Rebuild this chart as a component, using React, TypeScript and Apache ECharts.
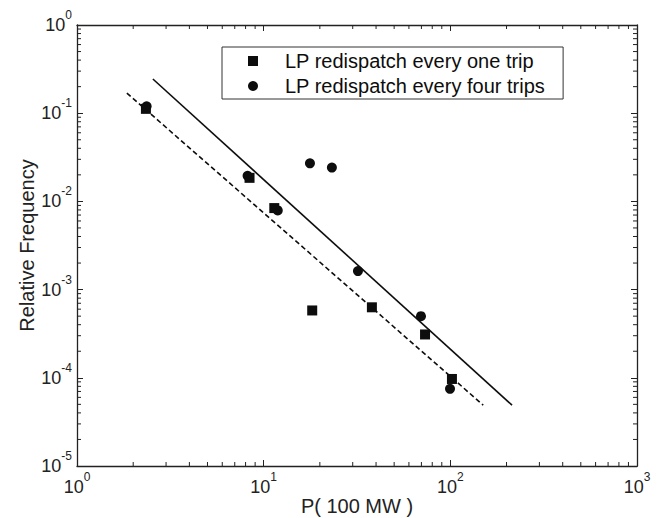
import React, { useEffect, useRef } from 'react';
import * as echarts from 'echarts';

const FONT = '"Liberation Sans", Arial, Helvetica, sans-serif';

// P (100 MW) and relative frequency, LP redispatch every one trip
const oneTripP = [2.34, 8.4, 11.4, 18.2, 38.0, 73.2, 102];
const oneTripFreq = [0.112, 0.0185, 0.0084, 0.00058, 0.00063, 0.00031, 0.000097];

// LP redispatch every four trips
const fourTripsP = [2.36, 8.2, 11.9, 17.7, 23.2, 32.0, 69.6, 99.6];
const fourTripsFreq = [0.12, 0.0195, 0.0079, 0.027, 0.0242, 0.00162, 0.0005, 0.000075];

// power-law fit lines (end points)
const solidFitP = [2.55, 214];
const solidFitFreq = [0.244, 4.9e-5];
const dashedFitP = [1.85, 150];
const dashedFitFreq = [0.169, 4.9e-5];

const X_MIN = 1;
const X_MAX = 1000;
const Y_MIN = 1e-5;
const Y_MAX = 1;

const seriesNames = ['LP redispatch every one trip', 'LP redispatch every four trips'];

function minorTicks(minExp: number, maxExp: number): number[] {
  const out: number[] = [];
  for (let e = minExp; e < maxExp; e++) {
    for (let m = 2; m <= 9; m++) out.push(m * Math.pow(10, e));
  }
  return out;
}
const xMinor = minorTicks(0, 3);
const yMinor = minorTicks(-5, 0);

const AXIS_COLOR = '#222';
const MARK_COLOR = '#0d0d0d';

const expLabel = (v: number) => {
  const e = Math.round(Math.log10(v));
  return `{b|10}{s|${e}}`;
};
const labelRich = {
  b: { fontSize: 18, fontFamily: FONT, color: AXIS_COLOR, lineHeight: 32, verticalAlign: 'middle' },
  s: { fontSize: 12, fontFamily: FONT, color: AXIS_COLOR, verticalAlign: 'top' },
};

export default function App() {
  const ref = useRef<HTMLDivElement>(null);
  useEffect(() => {
    if (!ref.current) return;
    const chart = echarts.init(ref.current, null, { renderer: 'svg' });
    const baseAxisLine = { show: true, lineStyle: { color: AXIS_COLOR, width: 1.3 } };
    const option: any = {
      animation: false,
      backgroundColor: '#fff',
      grid: { left: 77, right: 26, top: 25, bottom: 52, containLabel: false, outerBoundsMode: 'none' },
      legend: {
        data: [
          { name: seriesNames[0], icon: 'rect' },
          { name: seriesNames[1], icon: 'circle' },
        ],
        orient: 'vertical',
        left: 222,
        top: 47,
        itemWidth: 10,
        itemHeight: 10,
        itemGap: 5,
        padding: [4, 18, 3, 26],
        borderColor: '#333',
        borderWidth: 1,
        backgroundColor: '#fff',
        selectedMode: false,
        itemStyle: { opacity: 1 },
        textStyle: { fontSize: 20, fontFamily: FONT, color: MARK_COLOR, padding: [0, 0, 0, 22], lineHeight: 20 },
      },
      xAxis: [
        {
          type: 'log',
          logBase: 10,
          min: X_MIN,
          max: X_MAX,
          position: 'bottom',
          name: 'P( 100 MW )',
          nameLocation: 'middle',
          nameGap: 30,
          nameMoveOverlap: false,
          nameTextStyle: { fontSize: 20, fontFamily: FONT, color: AXIS_COLOR },
          axisLine: baseAxisLine,
          axisTick: { show: true, inside: true, length: 6, lineStyle: { color: AXIS_COLOR, width: 1 } },
          axisLabel: { show: true, margin: 5, formatter: expLabel, rich: labelRich },
          splitLine: { show: false },
        },
        {
          type: 'log',
          logBase: 10,
          min: X_MIN,
          max: X_MAX,
          position: 'top',
          axisLine: baseAxisLine,
          axisTick: { show: true, inside: true, length: 6, lineStyle: { color: AXIS_COLOR, width: 1 } },
          axisLabel: { show: false },
          splitLine: { show: false },
        },
      ],
      yAxis: [
        {
          type: 'log',
          logBase: 10,
          min: Y_MIN,
          max: Y_MAX,
          position: 'left',
          name: 'Relative Frequency',
          nameLocation: 'middle',
          nameGap: 40,
          nameMoveOverlap: false,
          nameTextStyle: { fontSize: 20, fontFamily: FONT, color: AXIS_COLOR },
          axisLine: baseAxisLine,
          axisTick: { show: true, inside: true, length: 6, lineStyle: { color: AXIS_COLOR, width: 1 } },
          axisLabel: { show: true, margin: 5, formatter: expLabel, rich: labelRich },
          splitLine: { show: false },
        },
        {
          type: 'log',
          logBase: 10,
          min: Y_MIN,
          max: Y_MAX,
          position: 'right',
          axisLine: baseAxisLine,
          axisTick: { show: true, inside: true, length: 6, lineStyle: { color: AXIS_COLOR, width: 1 } },
          axisLabel: { show: false },
          splitLine: { show: false },
        },
      ],
      series: [
        {
          type: 'custom',
          name: 'xMinorTicks',
          silent: true,
          xAxisIndex: 0,
          yAxisIndex: 0,
          data: xMinor.map((v) => [v, 1e-3]),
          encode: { x: 0, y: 1 },
          renderItem: (_p: any, api: any) => {
            const v = api.value(0);
            const b = api.coord([v, Y_MIN]);
            const t = api.coord([v, Y_MAX]);
            const style = { stroke: AXIS_COLOR, lineWidth: 1 };
            return {
              type: 'group',
              children: [
                { type: 'line', shape: { x1: b[0], y1: b[1], x2: b[0], y2: b[1] - 4 }, style },
                { type: 'line', shape: { x1: t[0], y1: t[1], x2: t[0], y2: t[1] + 4 }, style },
              ],
            };
          },
        },
        {
          type: 'custom',
          name: 'yMinorTicks',
          silent: true,
          xAxisIndex: 0,
          yAxisIndex: 0,
          data: yMinor.map((v) => [10, v]),
          encode: { x: 0, y: 1 },
          renderItem: (_p: any, api: any) => {
            const v = api.value(1);
            const l = api.coord([X_MIN, v]);
            const r = api.coord([X_MAX, v]);
            const style = { stroke: AXIS_COLOR, lineWidth: 1 };
            return {
              type: 'group',
              children: [
                { type: 'line', shape: { x1: l[0], y1: l[1], x2: l[0] + 4, y2: l[1] }, style },
                { type: 'line', shape: { x1: r[0], y1: r[1], x2: r[0] - 4, y2: r[1] }, style },
              ],
            };
          },
        },
        {
          type: 'line',
          name: 'solidFit',
          data: solidFitP.map((p, i) => [p, solidFitFreq[i]]),
          showSymbol: false,
          symbol: 'none',
          lineStyle: { color: MARK_COLOR, width: 1.6, type: 'solid' },
          z: 3,
        },
        {
          type: 'line',
          name: 'dashedFit',
          data: dashedFitP.map((p, i) => [p, dashedFitFreq[i]]),
          showSymbol: false,
          symbol: 'none',
          lineStyle: { color: MARK_COLOR, width: 1.6, type: [5, 3] },
          z: 3,
        },
        {
          type: 'scatter',
          name: seriesNames[1],
          data: fourTripsP.map((p, i) => [p, fourTripsFreq[i]]),
          symbol: 'circle',
          symbolSize: 10,
          itemStyle: { color: MARK_COLOR, opacity: 1 },
          z: 4,
        },
        {
          type: 'scatter',
          name: seriesNames[0],
          data: oneTripP.map((p, i) => [p, oneTripFreq[i]]),
          symbol: 'rect',
          symbolSize: 10,
          itemStyle: { color: MARK_COLOR, opacity: 1 },
          z: 5,
        },
      ],
    };
    chart.setOption(option);
    return () => chart.dispose();
  }, []);
  return (
    <div
      ref={ref}
      style={{ position: 'fixed', left: 0, top: 0, width: 663, height: 518, background: '#fff' }}
    />
  );
}
